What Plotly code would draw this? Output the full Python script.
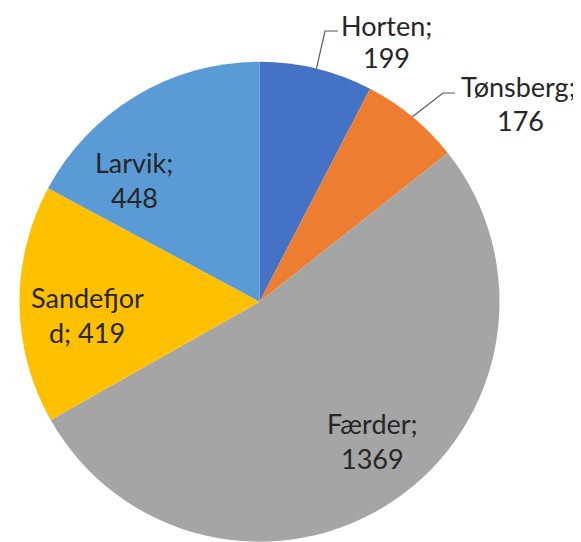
import math
import plotly.graph_objects as go

labels = ["Horten", "Tønsberg", "Færder", "Sandefjord", "Larvik"]
values = [199, 176, 1369, 419, 448]
colors = ["#4472C4", "#ED7D31", "#A5A5A5", "#FFC000", "#5B9BD5"]
# label lines as shown (Excel wrapped text)
label_lines = [
    ["Horten;", "199"],
    ["Tønsberg;", "176"],
    ["Færder;", "1369"],
    ["Sandefjor", "d; 419"],
    ["Larvik;", "448"],
]

W, H = 581, 542
OFF = 8.0  # page body margin compensation
cx, cy, R = 259.5 - OFF, 301.7 - OFF, 240.0

def px(x):
    return x / W

def py(y):
    return (H - y) / H

fig = go.Figure(go.Pie(
    labels=labels,
    values=values,
    marker=dict(colors=colors, line=dict(width=0)),
    sort=False,
    direction="clockwise",
    rotation=0,
    textinfo="none",
    hoverinfo="label+value",
    showlegend=False,
    domain=dict(x=[px(cx - R), px(cx + R)], y=[py(cy + R), py(cy - R)]),
))

# label centres (page pixel) for each line
label_pos = [
    [(386, 23), (386, 57)],
    [(518, 86), (520, 120.5)],
    [(372, 423.5), (372, 458.5)],
    [(88, 297), (87, 332.5)],
    [(134, 162), (134, 197.5)],
]

font = dict(family="Lato, Liberation Sans, sans-serif", size=27, color="#262626")
anns = []
for lines, poss in zip(label_lines, label_pos):
    for t, (x, y) in zip(lines, poss):
        fy = y - OFF
        if fy < 20:
            # keep the text box inside the figure: anchor to top edge
            anns.append(dict(x=px(x - OFF), y=1, xref="paper", yref="paper", text=t,
                             showarrow=False, xanchor="center", yanchor="top",
                             borderpad=0, font=font))
        else:
            anns.append(dict(x=px(x - OFF), y=py(fy), xref="paper", yref="paper", text=t,
                             showarrow=False, xanchor="center", yanchor="middle", font=font))

# leader lines for the two outside labels
total = sum(values)
cum = 0
mids = []
for v in values:
    mids.append((cum + v / 2) / total * 2 * math.pi)
    cum += v

shapes = []
elbows = {0: [(325, 31), (338, 31)], 1: [(443, 93), (455, 93)]}
for i, pts in elbows.items():
    a = mids[i]
    sx = cx + R * math.sin(a)
    sy = cy - R * math.cos(a)
    path_pts = [(sx, sy)] + [(x - OFF, y - OFF) for x, y in pts]
    path = "M " + " L ".join(f"{px(x)},{py(y)}" for x, y in path_pts)
    shapes.append(dict(type="path", path=path, xref="paper", yref="paper",
                       line=dict(color="#595959", width=1.2)))

fig.update_layout(
    width=W, height=H,
    margin=dict(l=0, r=0, t=0, b=0),
    paper_bgcolor="white",
    plot_bgcolor="white",
    annotations=anns,
    shapes=shapes,
)

fig.write_html("out.html")
